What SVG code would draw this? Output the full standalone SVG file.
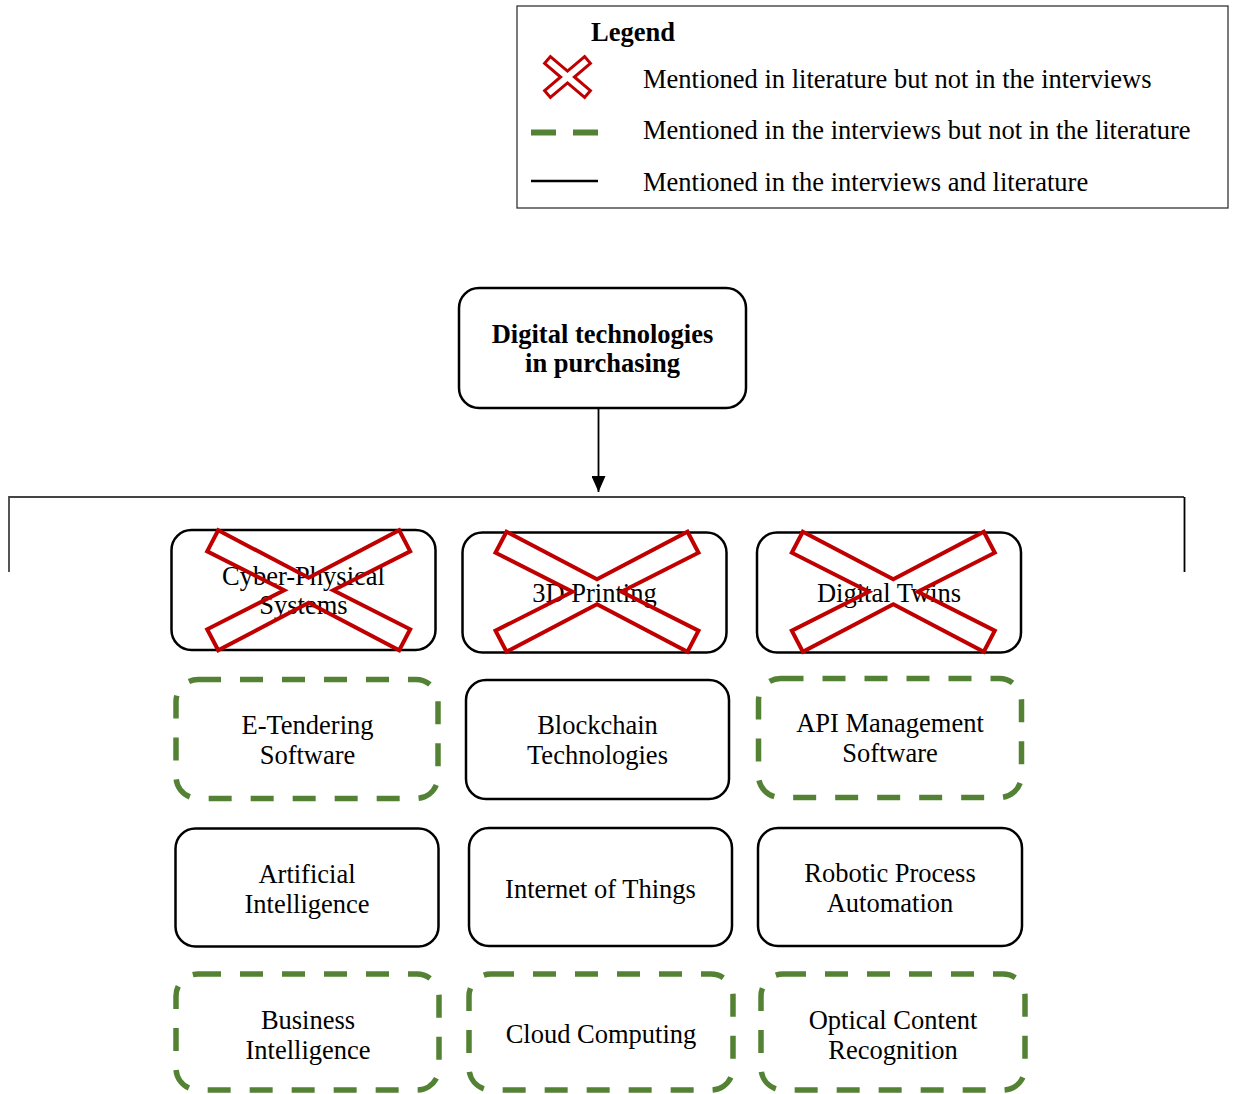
<svg xmlns="http://www.w3.org/2000/svg" width="1233" height="1094" viewBox="0 0 1233 1094">
  <style>
    text { font-family: "Liberation Serif", "Times New Roman", serif; font-size: 26.5px; fill: #000; }
    .b { font-weight: bold; }
    .c { text-anchor: middle; }
    .solid { fill: #fff; stroke: #000; stroke-width: 2.5; }
    .dash { fill: #fff; stroke: #548235; stroke-width: 5.5; stroke-dasharray: 23 19; }
    .cross { fill: none; stroke: #C00000; stroke-width: 4; stroke-linejoin: miter; }
    .conn { fill: none; stroke: #000; stroke-width: 1.8; }
  </style>
  <defs>
    <!-- large X mark drawn over a node, centred on 0,0 -->
    <path id="xmark" d="M -90.5 -60 L 0 -12.5 L 90.5 -60 L 101.5 -39 L 24.5 0 L 101.5 39 L 90.5 60 L 0 12.5 L -90.5 60 L -101.5 39 L -24.5 0 L -101.5 -39 Z"/>
    <marker id="arrow" markerWidth="16" markerHeight="14" refX="16" refY="7" orient="auto" markerUnits="userSpaceOnUse">
      <path d="M 0 0 L 16 7 L 0 14 Z" fill="#000"/>
    </marker>
  </defs>

  <rect width="1233" height="1094" fill="#fff"/>

  <!-- Legend -->
  <g id="legend">
    <rect x="517" y="6" width="711" height="202" fill="#fff" stroke="#333" stroke-width="1.3"/>
    <text class="b" x="591" y="41">Legend</text>
    <path transform="translate(567.5,77)" d="M -17.1 -20.4 L 0 -5.9 L 17.1 -20.4 L 22.9 -13.6 L 6.9 0 L 22.9 13.6 L 17.1 20.4 L 0 5.9 L -17.1 20.4 L -22.9 13.6 L -6.9 0 L -22.9 -13.6 Z" fill="#fff" stroke="#C00000" stroke-width="3"/>
    <text x="643" y="88">Mentioned in literature but not in the interviews</text>
    <line x1="531" y1="132.5" x2="598" y2="132.5" stroke="#548235" stroke-width="6" stroke-dasharray="25 17"/>
    <text x="643" y="139">Mentioned in the interviews but not in the literature</text>
    <line x1="531" y1="181" x2="598" y2="181" stroke="#000" stroke-width="2.5"/>
    <text x="643" y="191">Mentioned in the interviews and literature</text>
  </g>

  <!-- Connectors -->
  <g id="connectors">
    <line class="conn" x1="598.5" y1="408" x2="598.5" y2="492" marker-end="url(#arrow)"/>
    <polyline fill="none" stroke="#444" stroke-width="1.8" points="9,572 9,497 1184,497"/>
    <line x1="1184.5" y1="497" x2="1184.5" y2="572" stroke="#000" stroke-width="1.8"/>
  </g>

  <!-- Root node -->
  <g id="root">
    <rect class="solid" x="459" y="288" width="287" height="120" rx="20"/>
    <text class="b c" x="602.5" y="343">Digital technologies</text>
    <text class="b c" x="602.5" y="372">in purchasing</text>
  </g>

  <!-- Row 1: literature only -->
  <g id="cyber-physical-systems">
    <rect class="solid" x="171.5" y="530" width="264" height="120" rx="20"/>
    <text class="c" x="303.5" y="585">Cyber-Physical</text>
    <text class="c" x="303.5" y="614">Systems</text>
    <use href="#xmark" class="cross" transform="translate(308.7,590.3)"/>
  </g>
  <g id="3d-printing">
    <rect class="solid" x="462.5" y="532.5" width="264" height="120" rx="20"/>
    <text class="c" x="594.5" y="601.5">3D Printing</text>
    <use href="#xmark" class="cross" transform="translate(597,591.7)"/>
  </g>
  <g id="digital-twins">
    <rect class="solid" x="757" y="532.5" width="264" height="120" rx="20"/>
    <text class="c" x="889" y="601.5">Digital Twins</text>
    <use href="#xmark" class="cross" transform="translate(893.3,591.7)"/>
  </g>

  <!-- Row 2 -->
  <g id="e-tendering-software">
    <rect class="dash" x="176" y="679.5" width="262" height="119" rx="22"/>
    <text class="c" x="307.5" y="733.5">E-Tendering</text>
    <text class="c" x="307.5" y="763.5">Software</text>
  </g>
  <g id="blockchain-technologies">
    <rect class="solid" x="466" y="680" width="263" height="119" rx="20"/>
    <text class="c" x="597.5" y="734">Blockchain</text>
    <text class="c" x="597.5" y="764">Technologies</text>
  </g>
  <g id="api-management-software">
    <rect class="dash" x="758.5" y="678.5" width="263" height="119" rx="22"/>
    <text class="c" x="890" y="732">API Management</text>
    <text class="c" x="890" y="762">Software</text>
  </g>

  <!-- Row 3 -->
  <g id="artificial-intelligence">
    <rect class="solid" x="175.5" y="828.5" width="263" height="118" rx="20"/>
    <text class="c" x="307" y="883">Artificial</text>
    <text class="c" x="307" y="913">Intelligence</text>
  </g>
  <g id="internet-of-things">
    <rect class="solid" x="469" y="828" width="263" height="118" rx="20"/>
    <text class="c" x="600.5" y="898">Internet of Things</text>
  </g>
  <g id="robotic-process-automation">
    <rect class="solid" x="758" y="828" width="264" height="118" rx="20"/>
    <text class="c" x="890" y="882">Robotic Process</text>
    <text class="c" x="890" y="912">Automation</text>
  </g>

  <!-- Row 4 -->
  <g id="business-intelligence">
    <rect class="dash" x="176" y="974" width="263" height="116" rx="22"/>
    <text class="c" x="308" y="1028.5">Business</text>
    <text class="c" x="308" y="1058.5">Intelligence</text>
  </g>
  <g id="cloud-computing">
    <rect class="dash" x="469" y="974" width="264" height="116" rx="22"/>
    <text class="c" x="601" y="1043">Cloud Computing</text>
  </g>
  <g id="optical-content-recognition">
    <rect class="dash" x="761" y="974" width="264" height="116" rx="22"/>
    <text class="c" x="893" y="1028.5">Optical Content</text>
    <text class="c" x="893" y="1058.5">Recognition</text>
  </g>
</svg>
